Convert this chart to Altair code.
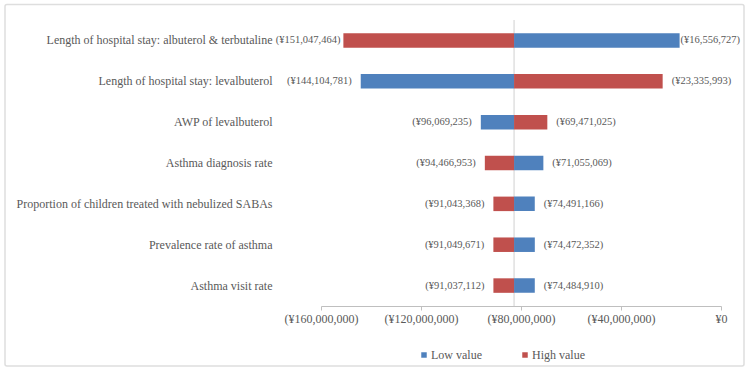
import altair as alt
import pandas as pd

# Tornado diagram: one-way sensitivity of the net cost result
params = [
    "Length of hospital stay: albuterol & terbutaline",
    "Length of hospital stay: levalbuterol",
    "AWP of levalbuterol",
    "Asthma diagnosis rate",
    "Proportion of children treated with nebulized SABAs",
    "Prevalence rate of asthma",
    "Asthma visit rate",
]
low_values = [-16556727, -144104781, -96069235, -71055069, -74491166, -74472352, -74484910]
high_values = [-151047464, -23335993, -69471025, -94466953, -91043368, -91049671, -91037112]
base_case = -82780000

series_names = ["Low value", "High value"]
series_colors = ["#4F81BD", "#C0504D"]

FONT = "Liberation Serif"
TEXT_COLOR = "#595959"

rows = []
for p, lo, hi in zip(params, low_values, high_values):
    for name, v in (("Low value", lo), ("High value", hi)):
        rows.append({
            "param": p,
            "scenario": name,
            "value": v,
            "base": base_case,
            "label": f"(¥{abs(v):,.0f})",
        })
df = pd.DataFrame(rows)

x_scale = alt.Scale(domain=[-160000000, 0], nice=False, zero=False)
y_scale = alt.Scale(domain=params, paddingInner=0.645, paddingOuter=0.3225)

x_axis = alt.Axis(
    values=[-160000000, -120000000, -80000000, -40000000, 0],
    labelExpr="datum.value == 0 ? '¥0' : '(¥' + format(abs(datum.value), ',') + ')'",
    labelOverlap=False, labelFlush=False, labelBound=False,
    grid=False, domainColor="#bfbfbf", tickColor="#bfbfbf", tickSize=4,
    labelFont=FONT, labelFontSize=12, labelColor=TEXT_COLOR, labelPadding=3,
    title=None,
)
y_axis = alt.Axis(
    domain=False, ticks=False, grid=False, labelFont=FONT, labelFontSize=12,
    labelColor=TEXT_COLOR, labelPadding=49, labelLimit=400, title=None,
)

base = alt.Chart(df)

bars = base.mark_bar(size=14.5).encode(
    x=alt.X("value:Q", scale=x_scale, axis=x_axis),
    x2="base:Q",
    y=alt.Y("param:N", scale=y_scale, axis=y_axis, sort=params),
    color=alt.Color(
        "scenario:N",
        scale=alt.Scale(domain=series_names, range=series_colors),
        legend=alt.Legend(
            orient="none", legendX=97, legendY=329, direction="horizontal",
            title=None, symbolType="square", symbolSize=30, symbolStrokeWidth=0,
            labelFont=FONT, labelFontSize=12, labelColor=TEXT_COLOR,
            labelOffset=1, columnPadding=37, padding=0,
        ),
    ),
)


def value_labels(condition, align, dx):
    # Value labels sit just outside the free end of each bar
    return base.transform_filter(condition).mark_text(
        align=align, baseline="middle", dx=dx, font=FONT, fontSize=10.5, color=TEXT_COLOR
    ).encode(
        x=alt.X("value:Q", scale=x_scale),
        y=alt.Y("param:N", scale=y_scale, sort=params),
        text="label:N",
    )


# The gap to the bar narrows for the widest bar, where the labels run up to the chart edge
left_wide = value_labels("datum.value < datum.base && datum.value < -150000000", "right", -3)
left_rest = value_labels("datum.value < datum.base && datum.value >= -150000000", "right", -9)
right_wide = value_labels("datum.value > datum.base && datum.value > -20000000", "left", 1)
right_rest = value_labels("datum.value > datum.base && datum.value <= -20000000", "left", 9)

one = pd.DataFrame({"base": [base_case]})
center_line = alt.Chart(one).mark_rule(color="#d0d0d0", strokeWidth=1).encode(
    x=alt.X("base:Q", scale=x_scale),
    y=alt.value(0),
    y2=alt.value(286),
)

frame = alt.Chart(one).mark_rect(
    fill="transparent", stroke="#dedede", strokeWidth=1.5, cornerRadius=2
).encode(
    x=alt.value(-316), x2=alt.value(423), y=alt.value(-15.5), y2=alt.value(346),
)

chart = alt.layer(
    frame, center_line, bars, left_wide, left_rest, right_wide, right_rest
).properties(
    width=400,
    height=286,
    padding={"left": 321, "top": 20, "right": 29, "bottom": 67},
    autosize=alt.AutoSizeParams(type="none"),
    background="white",
).configure_view(stroke=None)

chart.save("out.html", embed_options={"renderer": "svg", "actions": False})
